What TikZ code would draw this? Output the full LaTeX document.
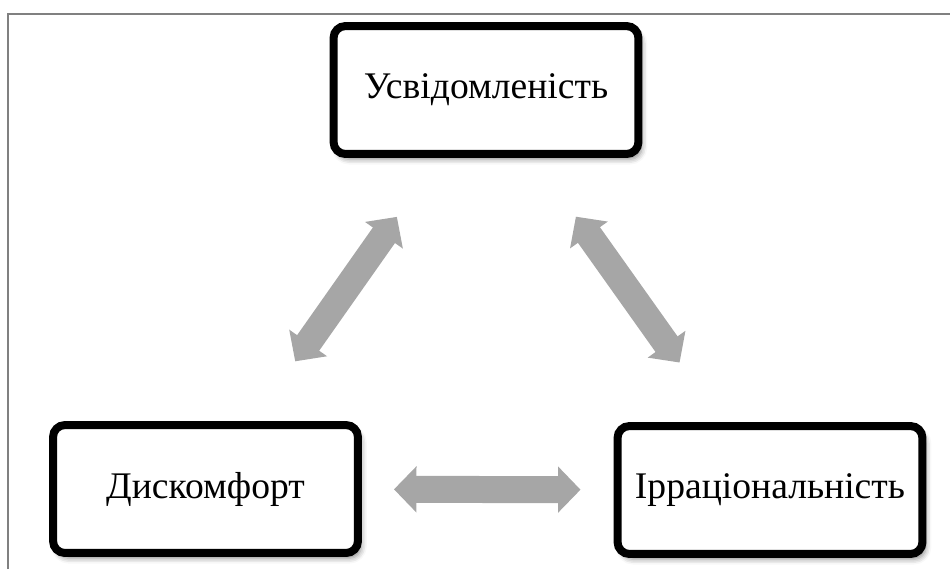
\documentclass[tikz,border=0pt]{standalone}
\usepackage{fontspec}
\setmainfont{Liberation Serif}
\usetikzlibrary{positioning,arrows.meta,shadows.blur}

\begin{document}
\begin{tikzpicture}[x=0.02cm,y=-0.02cm,
  box/.style={draw=black,line width=0.16cm,rounded corners=0.24cm,fill=white,
    minimum width=6.1cm,minimum height=2.56cm,
    font=\fontsize{21.4pt}{25pt}\selectfont,
    blur shadow={shadow xshift=2pt,shadow yshift=-3pt,shadow blur radius=3pt,shadow opacity=45}},
  twoway/.style={draw=black!35,line width=0.54cm,
    {Triangle[width=0.9cm,length=0.45cm]}-{Triangle[width=0.9cm,length=0.45cm]}}]
\useasboundingbox (0,0) rectangle (950,569);
\draw[gray,line width=0.045cm] (8,569) |- (950,14);
\node[box] (usv) at (486,90) {Усвідомленість};
\node[box] (dysk) at (205.5,489) {Дискомфорт};
\node[box] (irr) at (770,490) {Ірраціональність};
% arrows
\draw[twoway,shorten <=1.46cm,shorten >=1.44cm] (dysk) -- (usv);
\draw[twoway,shorten <=1.44cm,shorten >=1.46cm] (usv) -- (irr);
\draw[twoway,shorten <=0.64cm,shorten >=0.66cm] (dysk) -- (irr);
\end{tikzpicture}
\end{document}
